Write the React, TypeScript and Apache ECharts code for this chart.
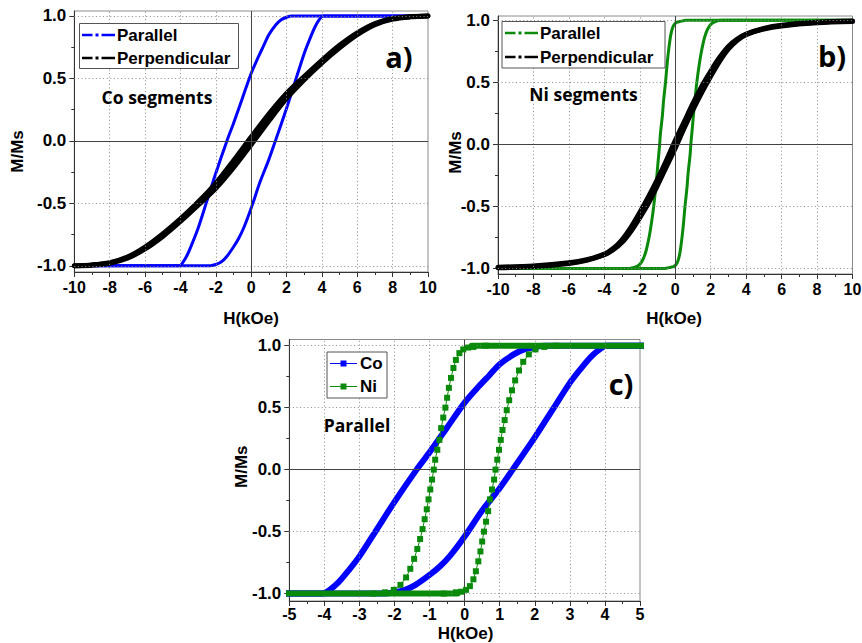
import React, { useEffect, useRef } from 'react';
import * as echarts from 'echarts';

// ---------- data (H in kOe, M/Ms) ----------
// Co segments, field parallel to wires (descending branch, +H -> -H)
const coParallelDesc: number[][] = [
  [10, 1], [2.3, 1], [2.0, 0.99], [1.7, 0.97], [1.4, 0.93], [1.0, 0.85], [0.7, 0.76],
  [0.4, 0.67], [0, 0.54], [-0.5, 0.34], [-1.0, 0.14], [-1.37, 0], [-2.0, -0.26],
  [-2.5, -0.48], [-3.0, -0.7], [-3.3, -0.81], [-3.6, -0.91], [-3.85, -0.97], [-4.05, -1], [-10, -1],
];
// Co segments, parallel (ascending branch, -H -> +H)
const coParallelAsc: number[][] = [
  [-10, -1], [-2.3, -1], [-2.0, -0.99], [-1.7, -0.97], [-1.4, -0.93], [-1.0, -0.85], [-0.7, -0.78],
  [-0.4, -0.69], [0, -0.54], [0.5, -0.33], [1.0, -0.15], [1.37, 0], [2.0, 0.26],
  [2.5, 0.48], [3.0, 0.7], [3.3, 0.81], [3.6, 0.91], [3.85, 0.97], [4.05, 1], [10, 1],
];
// Co segments, perpendicular
const coPerpDesc: number[][] = [
  [10, 1], [9, 0.995], [8, 0.98], [7, 0.94], [6, 0.865], [5, 0.765], [4, 0.645], [3, 0.515],
  [2, 0.38], [1, 0.215], [0, 0.03], [-1, -0.16], [-2, -0.34], [-3, -0.49], [-4, -0.625],
  [-5, -0.745], [-6, -0.85], [-7, -0.93], [-8, -0.975], [-9, -0.993], [-10, -1],
];
const coPerpAsc: number[][] = [
  [-10, -1], [-9, -0.995], [-8, -0.98], [-7, -0.94], [-6, -0.865], [-5, -0.765], [-4, -0.645], [-3, -0.515],
  [-2, -0.38], [-1, -0.215], [0, -0.03], [1, 0.16], [2, 0.34], [3, 0.49], [4, 0.625],
  [5, 0.745], [6, 0.85], [7, 0.93], [8, 0.975], [9, 0.993], [10, 1],
];
// Ni segments, parallel
const niParallelDesc: number[][] = [
  [10, 1], [0.6, 1], [0.25, 0.99], [0.1, 0.985], [-0.04, 0.97], [-0.15, 0.94], [-0.25, 0.885],
  [-0.32, 0.82], [-0.39, 0.74], [-0.45, 0.66], [-0.5, 0.58], [-0.55, 0.5], [-0.61, 0.42],
  [-0.67, 0.335], [-0.72, 0.24], [-0.78, 0.16], [-0.84, 0.08], [-0.88, 0], [-0.93, -0.08],
  [-0.98, -0.16], [-1.03, -0.24], [-1.08, -0.32], [-1.14, -0.4], [-1.2, -0.48], [-1.27, -0.56],
  [-1.35, -0.64], [-1.44, -0.72], [-1.55, -0.8], [-1.67, -0.87], [-1.83, -0.93], [-2.02, -0.97],
  [-2.27, -0.99], [-2.6, -1], [-10, -1],
];
const niParallelAsc: number[][] = [
  [-10, -1], [-0.6, -1], [-0.25, -0.99], [-0.1, -0.985], [0.04, -0.97], [0.15, -0.94], [0.25, -0.885],
  [0.32, -0.82], [0.39, -0.74], [0.45, -0.66], [0.5, -0.58], [0.55, -0.5], [0.61, -0.42],
  [0.67, -0.335], [0.72, -0.24], [0.78, -0.16], [0.84, -0.08], [0.88, 0], [0.93, 0.08],
  [0.98, 0.16], [1.03, 0.24], [1.08, 0.32], [1.14, 0.4], [1.2, 0.48], [1.27, 0.56],
  [1.35, 0.64], [1.44, 0.72], [1.55, 0.8], [1.67, 0.87], [1.83, 0.93], [2.02, 0.97],
  [2.27, 0.99], [2.6, 1], [10, 1],
];
// Ni saturation plateaus (dense points in panel c)
const niSatHigh: number[][] = [[0.2, 1], [10, 1]];
const niSatLow: number[][] = [[-10, -1], [-0.2, -1]];
// Ni segments, perpendicular
const niPerpDesc: number[][] = [
  [10, 0.995], [8, 0.985], [6, 0.96], [5, 0.935], [4, 0.89], [3.5, 0.85], [3, 0.79], [2.5, 0.7],
  [2, 0.59], [1.5, 0.47], [1, 0.33], [0.5, 0.18], [0, 0.03], [-0.5, -0.13], [-1, -0.28],
  [-1.5, -0.42], [-2, -0.55], [-2.5, -0.67], [-3, -0.77], [-3.5, -0.84], [-4, -0.885],
  [-5, -0.93], [-6, -0.955], [-8, -0.98], [-10, -0.99],
];
const niPerpAsc: number[][] = [
  [-10, -0.995], [-8, -0.985], [-6, -0.96], [-5, -0.935], [-4, -0.89], [-3.5, -0.85], [-3, -0.79],
  [-2.5, -0.7], [-2, -0.59], [-1.5, -0.47], [-1, -0.33], [-0.5, -0.18], [0, -0.03], [0.5, 0.13],
  [1, 0.28], [1.5, 0.42], [2, 0.55], [2.5, 0.67], [3, 0.77], [3.5, 0.84], [4, 0.885],
  [5, 0.93], [6, 0.955], [8, 0.98], [10, 0.99],
];

// tick values
const yTickLabels = [-1, -0.5, 0, 0.5, 1];
const yMinorTicks = [-0.75, -0.25, 0.25, 0.75];
const xGridAB = [-8, -6, -4, -2, 2, 4, 6, 8];
const xGridC = [-4, -3, -2, -1, 1, 2, 3, 4];
const yGrid = [-1, -0.5, 0.5, 1];

const BLUE = '#0000ff';
const GREEN = '#0a8a0a';
const BLACK = '#000000';
const ARIAL = '"Liberation Sans", Arial, Helvetica, sans-serif';
const SANS = '"Open Sans", "Noto Sans", sans-serif';

function xAxisCfg(gridIndex: number, min: number, max: number, interval: number, margin: number) {
  return {
    type: 'value', gridIndex, min, max, interval, position: 'bottom',
    axisLine: { show: true, onZero: false, lineStyle: { color: '#333', width: 1 } },
    axisTick: { show: true, inside: false, length: 5, lineStyle: { color: '#333' } },
    minorTick: { show: true, splitNumber: 2, length: 3, lineStyle: { color: '#333' } },
    axisLabel: { show: true, margin, color: '#000', fontFamily: ARIAL, fontWeight: 'bold', fontSize: 16 },
    splitLine: { show: false }, minorSplitLine: { show: false },
  };
}
function yAxisMain(gridIndex: number, min: number, max: number) {
  return {
    type: 'value', gridIndex, min, max, position: 'left',
    axisLine: { show: true, onZero: false, lineStyle: { color: '#333', width: 1 } },
    axisTick: { show: true, inside: false, length: 5, customValues: yTickLabels, lineStyle: { color: '#333' } },
    axisLabel: {
      show: true, margin: 8, color: '#000', fontFamily: ARIAL, fontWeight: 'bold', fontSize: 17,
      customValues: yTickLabels, formatter: (v: number) => v.toFixed(1),
    },
    splitLine: { show: false },
  };
}
function yAxisMinor(gridIndex: number, min: number, max: number) {
  return {
    type: 'value', gridIndex, min, max, position: 'left', offset: 0,
    axisLine: { show: false, onZero: false },
    axisTick: { show: true, inside: false, length: 3, customValues: yMinorTicks, lineStyle: { color: '#333' } },
    axisLabel: { show: false },
    splitLine: { show: false },
  };
}

function gridLinesSeries(xi: number, yi: number, xs: number[]) {
  const dotted = { color: '#8a8a8a', width: 1, type: [1, 2.6] };
  const solid = { color: '#444', width: 1, type: 'solid' };
  return {
    type: 'line', xAxisIndex: xi, yAxisIndex: yi, data: [[0, 0]], symbol: 'none',
    lineStyle: { opacity: 0 }, silent: true, z: 1,
    markLine: {
      silent: true, symbol: ['none', 'none'], label: { show: false }, animation: false,
      data: [
        ...xs.map((x) => ({ xAxis: x, lineStyle: dotted })),
        ...yGrid.map((y) => ({ yAxis: y, lineStyle: dotted })),
        { xAxis: 0, lineStyle: solid },
        { yAxis: 0, lineStyle: solid },
      ],
    },
  };
}

function curve(xi: number, yi: number, data: number[][], color: string, width: number, z: number) {
  return {
    type: 'line', xAxisIndex: xi, yAxisIndex: yi, data, symbol: 'none', showSymbol: false,
    smooth: 0.3,
    lineStyle: { color, width, cap: 'round', join: 'round' }, itemStyle: { color }, z,
  };
}
function markerCurve(xi: number, yi: number, data: number[][], color: string, z: number) {
  return {
    type: 'line', xAxisIndex: xi, yAxisIndex: yi, data, symbol: 'rect', symbolSize: 6, showSymbol: true,
    lineStyle: { color, width: 1 }, itemStyle: { color, borderWidth: 0 }, z,
  };
}

function text(x: number, y: number, t: string, size: number, family: string, rotation = 0) {
  return {
    type: 'text', x, y, rotation, silent: true, z: 100,
    style: { text: t, x: 0, y: 0, fill: '#000', fontSize: size, fontWeight: 'bold', fontFamily: family, align: 'center', verticalAlign: 'middle' },
  };
}

function dashDotLegendRow(x0: number, y: number, color: string, label: string) {
  return [
    { type: 'line', shape: { x1: x0, y1: y, x2: x0 + 10.5, y2: y }, style: { stroke: color, lineWidth: 2.5 }, z: 100 },
    { type: 'rect', shape: { x: x0 + 13.5, y: y - 1.5, width: 3, height: 3 }, style: { fill: color }, z: 100 },
    { type: 'line', shape: { x1: x0 + 19.5, y1: y, x2: x0 + 33, y2: y }, style: { stroke: color, lineWidth: 2.5 }, z: 100 },
    {
      type: 'text', x: x0 + 35, y, z: 100,
      style: { text: label, fill: '#000', fontSize: 17, fontWeight: 'bold', fontFamily: ARIAL, align: 'left', verticalAlign: 'middle' },
    },
  ];
}
function markerLegendRow(x0: number, y: number, color: string, label: string) {
  return [
    { type: 'line', shape: { x1: x0, y1: y, x2: x0 + 27, y2: y }, style: { stroke: color, lineWidth: 1 }, z: 100 },
    { type: 'rect', shape: { x: x0 + 10.5, y: y - 3, width: 6, height: 6 }, style: { fill: color }, z: 100 },
    {
      type: 'text', x: x0 + 30, y, z: 100,
      style: { text: label, fill: '#000', fontSize: 17, fontWeight: 'bold', fontFamily: ARIAL, align: 'left', verticalAlign: 'middle' },
    },
  ];
}

export default function App() {
  const ref = useRef<HTMLDivElement>(null);
  useEffect(() => {
    if (!ref.current) return;
    const chart = echarts.init(ref.current, null, { renderer: 'svg' });
    const gridStyle = { show: true, borderColor: '#8a8a8a', borderWidth: 1, backgroundColor: 'transparent', containLabel: false, outerBoundsMode: 'none' };
    const option: any = {
      animation: false,
      backgroundColor: '#fff',
      grid: [
        { left: 74.3, top: 11, width: 353.7, height: 261, ...gridStyle },
        { left: 498, top: 16, width: 354.5, height: 258, ...gridStyle },
        { left: 289.3, top: 339.5, width: 350.7, height: 261.5, ...gridStyle },
      ],
      xAxis: [xAxisCfg(0, -10, 10, 2, 7), xAxisCfg(1, -10, 10, 2, 7), xAxisCfg(2, -5, 5, 1, 5)],
      yAxis: [
        yAxisMain(0, -1.05, 1.04), yAxisMinor(0, -1.05, 1.04),
        yAxisMain(1, -1.045, 1.035), yAxisMinor(1, -1.045, 1.035),
        yAxisMain(2, -1.06, 1.05), yAxisMinor(2, -1.06, 1.05),
      ],
      series: [
        gridLinesSeries(0, 0, xGridAB),
        gridLinesSeries(1, 2, xGridAB),
        gridLinesSeries(2, 4, xGridC),
        // panel a
        curve(0, 0, coParallelDesc, BLUE, 3, 3),
        curve(0, 0, coParallelAsc, BLUE, 3, 3),
        curve(0, 0, coPerpDesc, BLACK, 5, 4),
        curve(0, 0, coPerpAsc, BLACK, 5, 4),
        // panel b
        curve(1, 2, niParallelDesc, GREEN, 3, 3),
        curve(1, 2, niParallelAsc, GREEN, 3, 3),
        curve(1, 2, niPerpDesc, BLACK, 5, 4),
        curve(1, 2, niPerpAsc, BLACK, 5, 4),
        // panel c
        curve(2, 4, coParallelDesc, BLUE, 6, 3),
        curve(2, 4, coParallelAsc, BLUE, 6, 3),
        { ...curve(2, 4, niSatHigh, GREEN, 6, 4), smooth: false },
        { ...curve(2, 4, niSatLow, GREEN, 6, 4), smooth: false },
        markerCurve(2, 4, niParallelDesc, GREEN, 5),
        markerCurve(2, 4, niParallelAsc, GREEN, 5),
      ],
      graphic: [
        // legend a
        { type: 'rect', shape: { x: 79.5, y: 23.5, width: 159, height: 45 }, style: { fill: '#fff', stroke: '#555', lineWidth: 1 }, z: 99 },
        ...dashDotLegendRow(82, 35, BLUE, 'Parallel'),
        ...dashDotLegendRow(82, 58, BLACK, 'Perpendicular'),
        // legend b
        { type: 'rect', shape: { x: 502, y: 21.5, width: 163, height: 46.5 }, style: { fill: '#fff', stroke: '#555', lineWidth: 1 }, z: 99 },
        ...dashDotLegendRow(505, 33, GREEN, 'Parallel'),
        ...dashDotLegendRow(505, 57, BLACK, 'Perpendicular'),
        // legend c
        { type: 'rect', shape: { x: 327, y: 352, width: 60, height: 46 }, style: { fill: '#fff', stroke: '#555', lineWidth: 1 }, z: 99 },
        ...markerLegendRow(330, 363.5, BLUE, 'Co'),
        ...markerLegendRow(330, 386.5, GREEN, 'Ni'),
        // panel labels & annotations
        text(399, 56, 'a)', 29, SANS),
        text(832, 55, 'b)', 29, SANS),
        text(621, 383, 'c)', 29, SANS),
        text(157, 97, 'Co segments', 17.5, SANS),
        text(583.5, 94, 'Ni segments', 17.5, SANS),
        text(357, 424.5, 'Parallel', 17.5, SANS),
        // axis titles
        text(251, 318, 'H(kOe)', 17, ARIAL),
        text(674, 318, 'H(kOe)', 17, ARIAL),
        text(465.5, 633, 'H(kOe)', 17, ARIAL),
        text(17.5, 151.5, 'M/Ms', 17, ARIAL, Math.PI / 2),
        text(455, 152.5, 'M/Ms', 17, ARIAL, Math.PI / 2),
        text(241.7, 466.7, 'M/Ms', 17, ARIAL, Math.PI / 2),
      ],
    };
    chart.setOption(option);
    return () => chart.dispose();
  }, []);
  return (
    <div
      ref={ref}
      style={{ position: 'fixed', left: 0, top: 0, width: 862, height: 643, background: '#fff' }}
    />
  );
}
